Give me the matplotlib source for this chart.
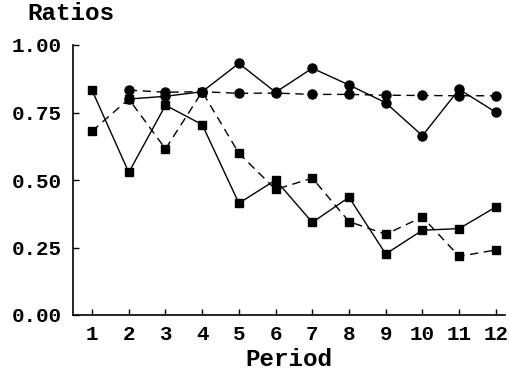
import matplotlib
matplotlib.use("Agg")
import matplotlib.pyplot as plt

periods = list(range(1, 13))
circ_periods = list(range(2, 13))

circle_solid = [0.800, 0.810, 0.827, 0.932, 0.825, 0.914, 0.852, 0.786, 0.664, 0.836, 0.751]
circle_dashed = [0.833, 0.825, 0.827, 0.821, 0.822, 0.817, 0.817, 0.814, 0.813, 0.812, 0.812]
square_solid = [0.832, 0.528, 0.777, 0.705, 0.414, 0.500, 0.343, 0.436, 0.226, 0.314, 0.320, 0.400]
square_dashed = [0.681, 0.800, 0.615, 0.827, 0.599, 0.465, 0.507, 0.346, 0.299, 0.363, 0.217, 0.241]

yticks = [0.00, 0.25, 0.50, 0.75, 1.00]
ytick_labels = ["0.00", "0.25", "0.50", "0.75", "1.00"]

font = ["Liberation Mono", "DejaVu Sans Mono"]
plt.rcParams["font.family"] = font
plt.rcParams["font.weight"] = "bold"

fig = plt.figure(figsize=(5.09, 3.76), dpi=100)
ax = fig.add_axes([73 / 509, 61 / 376, 432 / 509, 270 / 376])

dash = (0, (6, 4))
ax.plot(circ_periods, circle_solid, color="black", lw=1.0, marker="o", ms=6.5, linestyle="-")
ax.plot(circ_periods, circle_dashed, color="black", lw=1.0, marker="o", ms=6.5, linestyle=dash)
ax.plot(periods, square_solid, color="black", lw=1.0, marker="s", ms=6, linestyle="-")
ax.plot(periods, square_dashed, color="black", lw=1.0, marker="s", ms=6, linestyle=dash)

ax.set_xlim(0.48, 12.25)
ax.set_ylim(0, 1.0)
ax.set_xticks(periods)
ax.set_xticklabels([str(p) for p in periods])
ax.set_yticks(yticks)
ax.set_yticklabels(ytick_labels)
ax.spines["top"].set_visible(False)
ax.spines["right"].set_visible(False)
for s in ["left", "bottom"]:
    ax.spines[s].set_linewidth(1.2)
ax.tick_params(direction="in", length=4, width=1, labelsize=15)
ax.tick_params(axis="y", pad=8)
ax.tick_params(axis="x", pad=7)
for lab in ax.get_xticklabels() + ax.get_yticklabels():
    lab.set_fontweight("bold")

ax.set_xlabel("Period", fontsize=17.5, fontweight="bold", labelpad=3)
fig.text(27 / 509, 1 - 14 / 376, "Ratios", fontsize=17.5, fontweight="bold", va="center", ha="left")

fig.savefig("out.png", dpi=100)
